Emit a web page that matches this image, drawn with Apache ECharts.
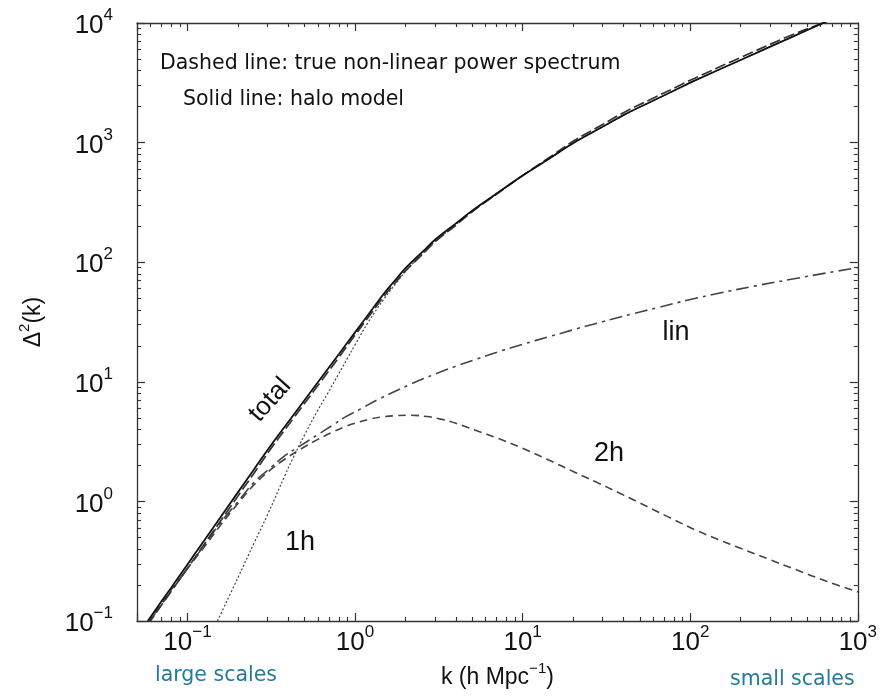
<!DOCTYPE html>
<html><head><meta charset="utf-8">
<script src="https://cdn.jsdelivr.net/npm/echarts@6/dist/echarts.min.js"></script>
<style>html,body{margin:0;padding:0;background:#fff}#c{width:880px;height:700px}</style>
</head><body><div id="c"></div>
<script>
// ---- data ----
const kTotal = [0.058, 0.07, 0.08, 0.1, 0.125, 0.153, 0.2, 0.25, 0.315, 0.426, 0.6, 0.8, 1.0, 1.25, 1.5, 1.79, 2.0, 2.58, 3.0, 4.0, 5.0, 7.0, 10, 14, 20, 30, 40, 60, 82, 100, 200, 400, 637, 800];
const totalHalo = [0.100, 0.146, 0.190, 0.297, 0.465, 0.696, 1.19, 1.86, 2.95, 5.2, 9.9, 17.0, 25.9, 39.4, 55.5, 74.3, 89.2, 125.6, 154, 211, 270, 375, 530, 716, 989, 1355, 1698, 2239, 2767, 3170, 4910, 7590, 10170, 11750];
const trueNL = [0.093, 0.136, 0.177, 0.276, 0.432, 0.647, 1.107, 1.73, 2.77, 4.89, 9.3, 16.0, 24.6, 37.4, 52.7, 70.6, 84.7, 120, 148, 204, 264, 372, 530, 730, 1025, 1420, 1780, 2350, 2900, 3320, 5150, 7900, 10200, 11800];

const k1h = [0.151, 0.2, 0.25, 0.3, 0.382, 0.426, 0.5, 0.6, 0.687, 0.8, 0.9, 1.0, 1.2, 1.5, 1.79, 2.0, 2.58, 3.0, 4.0, 5.0, 7.0, 10, 14, 20, 30, 40, 60, 82, 100, 200, 400, 637, 800];
const oneHalo = [0.1, 0.23, 0.45, 0.77, 1.65, 2.3, 3.6, 5.8, 8.0, 11.7, 15.7, 20.4, 31.6, 50, 69, 84, 120.5, 149, 206.5, 266, 371.6, 527, 714, 987, 1354, 1697, 2238, 2766, 3169, 4909, 7590, 10170, 11750];

const k2h = [0.058, 0.07, 0.08, 0.1, 0.125, 0.153, 0.2, 0.25, 0.315, 0.38, 0.456, 0.6, 0.75, 0.867, 1.0, 1.2, 1.45, 1.71, 2.1, 2.69, 3.3, 4.0, 5.33, 7.0, 10, 14, 20.9, 27.5, 38, 50, 75, 108, 150, 200, 300, 423, 650, 1000];
const twoHalo = [0.095, 0.14, 0.182, 0.275, 0.41, 0.60, 0.96, 1.38, 1.85, 2.25, 2.65, 3.3, 3.85, 4.2, 4.5, 4.85, 5.08, 5.2, 5.25, 5.12, 4.85, 4.5, 3.9, 3.4, 2.78, 2.25, 1.73, 1.45, 1.17, 0.97, 0.735, 0.575, 0.475, 0.405, 0.325, 0.27, 0.215, 0.175];

const kLin = [0.058, 0.07, 0.08, 0.1, 0.125, 0.153, 0.2, 0.25, 0.315, 0.38, 0.456, 0.6, 0.75, 0.867, 1.08, 1.4, 2.13, 3.0, 4.0, 5.33, 7.5, 10, 14.5, 20.9, 30, 45, 62.4, 100, 150, 245, 400, 650, 1000];
const linear = [0.095, 0.137, 0.178, 0.275, 0.425, 0.63, 0.993, 1.45, 1.92, 2.40, 2.83, 3.62, 4.42, 5.04, 5.94, 7.21, 9.51, 11.6, 13.5, 15.5, 18.2, 20.6, 23.9, 27.7, 31.8, 36.9, 41.4, 48.7, 55.2, 63.4, 71.9, 81.3, 90.2];

const xRange = [0.05, 1000];
const yRange = [0.1, 10000];
const xDecades = [-2, -1, 0, 1, 2];      // minor ticks 2..9 x 10^d
const yDecades = [-1, 0, 1, 2, 3];
const minorMult = [2, 3, 4, 5, 6, 7, 8, 9];

// ---- helpers ----
const pairs = (xs, ys) => xs.map((x, i) => [x, ys[i]]);
function minorLogs(decades, range) {
  const out = [];
  decades.forEach(d => minorMult.forEach(m => {
    const v = m * Math.pow(10, d);
    if (v > range[0] && v < range[1]) out.push(Math.log10(v));
  }));
  return out;
}
function powLabel(v) {
  const l = Math.log10(v);
  const e = Math.round(l);
  if (Math.abs(l - e) > 1e-6) return '';
  return '{b|10}{s|' + (e < 0 ? '\u2212' + (-e) : e) + '}';
}
const FONT = 'Liberation Sans, Arial, Helvetica, sans-serif';
const NOTE_FONT = 'DejaVu Sans';
const axisCol = '#333';
const labelRich = {
  b: { fontSize: 26, fontFamily: FONT, color: '#111', verticalAlign: 'bottom', padding: [6, 0, 0, 0] },
  s: { fontSize: 17, fontFamily: FONT, color: '#111', verticalAlign: 'top' }
};
const nameRich = {
  n: { fontSize: 23, fontFamily: FONT, color: '#111', verticalAlign: 'bottom', padding: [5, 0, 0, 0] },
  s: { fontSize: 15, fontFamily: FONT, color: '#111', verticalAlign: 'top' }
};

function logAxis(pos, range, showLabels, extra) {
  return Object.assign({
    type: 'log', logBase: 10, position: pos, min: range[0], max: range[1],
    gridIndex: 0,
    axisLine: { show: true, onZero: false, lineStyle: { color: axisCol, width: 1.3 } },
    axisTick: { show: true, inside: true, length: 8, lineStyle: { color: axisCol, width: 1.2 } },
    minorTick: { show: false },
    splitLine: { show: false },
    axisLabel: showLabels ? {
      show: true, formatter: powLabel, rich: labelRich, hideOverlap: false
    } : { show: false }
  }, extra || {});
}
function minorAxis(pos, range, ticks) {
  return {
    type: 'value', position: pos, gridIndex: 0,
    min: Math.log10(range[0]), max: Math.log10(range[1]),
    axisLine: { show: false, onZero: false },
    axisTick: { show: true, inside: true, length: 4, customValues: ticks, lineStyle: { color: axisCol, width: 1.1 } },
    axisLabel: { show: false },
    splitLine: { show: false }
  };
}
function lineSeries(name, xs, ys, style) {
  return { name, type: 'line', xAxisIndex: 0, yAxisIndex: 0, data: pairs(xs, ys),
    showSymbol: false, smooth: 0.4, clip: true, lineStyle: style };
}
function note(text, x, y, size, color, extra) {
  return Object.assign({ type: 'text', x, y, style: { text, fontSize: size, fontFamily: extra && extra.font || NOTE_FONT,
    fill: color, align: extra && extra.align || 'left', verticalAlign: 'middle' } },
    extra && extra.rotation !== undefined ? { rotation: extra.rotation } : {});
}

const xMinor = minorLogs(xDecades, xRange);
const yMinor = minorLogs(yDecades, yRange);

const chart = echarts.init(document.getElementById('c'), null, { renderer: 'canvas' });
chart.setOption({
  animation: false,
  backgroundColor: '#fff',
  grid: { left: 137, right: 17, top: 23, bottom: 79, containLabel: false },
  xAxis: [
    logAxis('bottom', xRange, true, {
      name: '{n|k (h Mpc}{s|\u22121}{n|)}', nameLocation: 'middle', nameGap: 34,
      nameTextStyle: { rich: nameRich },
      axisLabel: { show: true, formatter: powLabel, rich: labelRich, margin: 3, hideOverlap: false }
    }),
    logAxis('top', xRange, false),
    minorAxis('bottom', xRange, xMinor),
    minorAxis('top', xRange, xMinor)
  ],
  yAxis: [
    logAxis('left', yRange, true, {
      name: '{n|\u0394}{s|2}{n|(k)}', nameLocation: 'middle', nameGap: 92, nameRotate: 90,
      nameTextStyle: { rich: nameRich },
      axisLabel: { show: true, formatter: powLabel, rich: labelRich, margin: 24, hideOverlap: false }
    }),
    logAxis('right', yRange, false),
    minorAxis('left', yRange, yMinor),
    minorAxis('right', yRange, yMinor)
  ],
  series: [
    lineSeries('lin', kLin, linear, { color: '#444', width: 1.6, type: [13, 5, 3, 5] }),
    lineSeries('2h', k2h, twoHalo, { color: '#444', width: 1.6, type: [8, 5] }),
    lineSeries('1h', k1h, oneHalo, { color: '#444', width: 1.2, type: [2, 2] }),
    lineSeries('true non-linear', kTotal, trueNL, { color: '#333', width: 1.7, type: [11, 4] }),
    lineSeries('total', kTotal, totalHalo, { color: '#111', width: 1.8, type: 'solid' })
  ],
  graphic: [
    note('Dashed line: true non-linear power spectrum', 160, 64, 20.5, '#111'),
    note('Solid line: halo model', 183, 100, 20.5, '#111'),
    note('large scales', 155, 676, 20.5, '#237a9b'),
    note('small scales', 730, 680, 20.5, '#237a9b'),
    note('total', 270, 400, 26, '#111', { font: FONT, align: 'center', rotation: 48 * Math.PI / 180 }),
    note('lin', 676, 333, 27, '#111', { font: FONT, align: 'center' }),
    note('2h', 609, 454, 27, '#111', { font: FONT, align: 'center' }),
    note('1h', 300, 543, 27, '#111', { font: FONT, align: 'center' })
  ]
});
</script></body></html>
